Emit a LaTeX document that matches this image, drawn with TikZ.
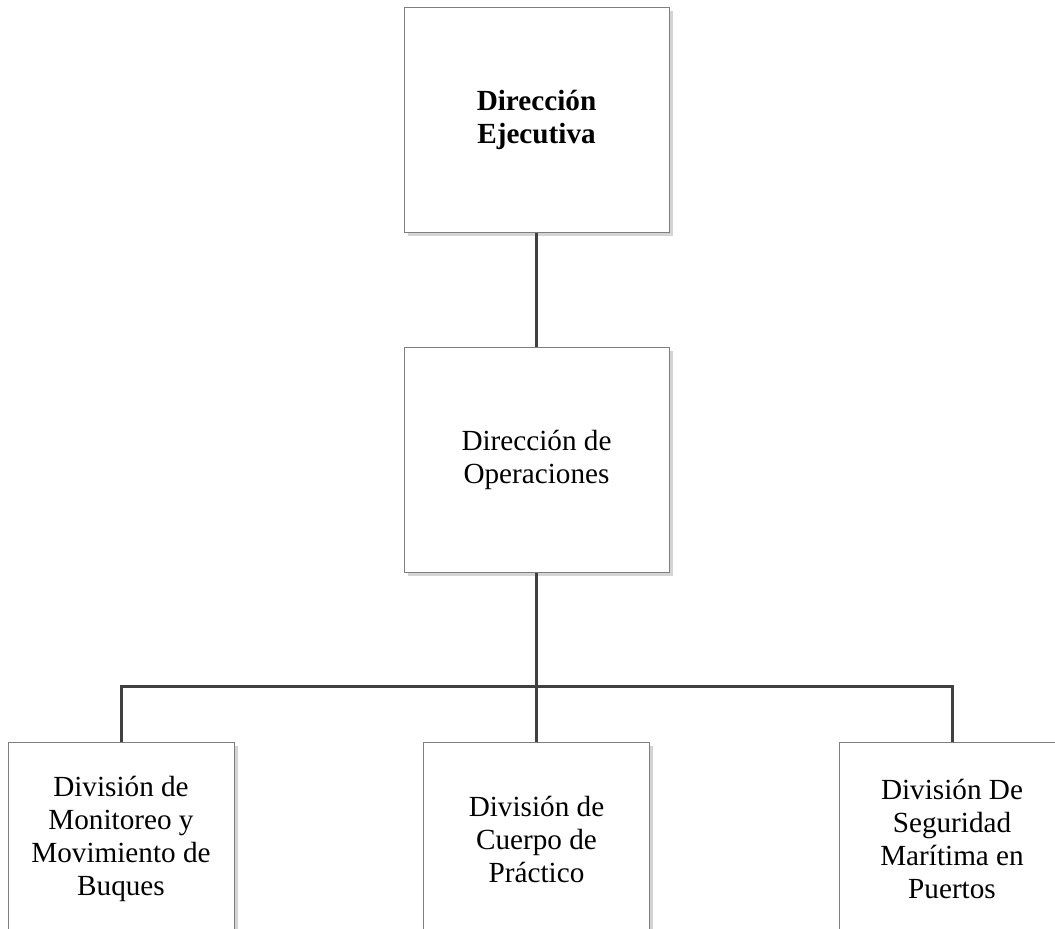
\documentclass[tikz,border=0pt]{standalone}
\usepackage{fontspec}
\setmainfont{Liberation Serif}
\usepackage{tikz}
\usetikzlibrary{positioning, shadows, calc}
\usepackage{xcolor}
\definecolor{boxLine}{HTML}{7F7F7F}
\definecolor{boxShadow}{HTML}{D4D4D4}
\definecolor{connGray}{HTML}{404040}

\begin{document}
\begin{tikzpicture}[
  x=0.5pt, y=-0.5pt,
  font=\fontsize{14.6}{16.5}\selectfont,
  every node/.style={align=center},
  box/.style={rectangle, draw=boxLine, line width=0.5pt, fill=white,
              inner sep=0pt, minimum width=132.5pt, minimum height=112.5pt,
              general shadow={fill=boxShadow, shadow xshift=1.8pt,
                              shadow yshift=-1.8pt}},
  divbox/.style={box, minimum width=113pt, minimum height=97pt},
  conn/.style={draw=connGray, line width=1.5pt},
]

% ── Frame (reference crops the lower boxes) ────────────────────────
\useasboundingbox (0,0) rectangle (1055,928);

% ── Grid coordinates ───────────────────────────────────────────────
\def\colL{121}      % left division x
\def\colM{536.5}    % middle column x
\def\colR{952}      % right division x
\def\rowT{119.5}    % executive row y
\def\rowC{459.5}    % operations row y
\def\rowB{839}      % divisions row y
\def\busY{686}      % horizontal bus y

% ── Nodes ──────────────────────────────────────────────────────────
\node[box] (ejecutiva)   at (\colM,\rowT) {\textbf{Dirección}\\\textbf{Ejecutiva}};
\node[box] (operaciones) at (\colM,\rowC) {Dirección de\\Operaciones};

\node[divbox] (monitoreo) at (\colL,\rowB) {División de\\Monitoreo y\\Movimiento de\\Buques};
\node[divbox] (practico)  at (\colM,\rowB) {División de\\Cuerpo de\\Práctico};
\node[divbox] (seguridad) at (\colR,\rowB) {División De\\Seguridad\\Marítima en\\Puertos};

\coordinate (bus) at (\colM,\busY);

% ── Connectors ─────────────────────────────────────────────────────
\draw[conn] (ejecutiva) -- (operaciones);
\draw[conn] (operaciones) -- (bus);
\draw[conn] (monitoreo.north) |- (seguridad.north |- bus) -- (seguridad.north);
\draw[conn] (bus) -- (practico.north);

\end{tikzpicture}
\end{document}
